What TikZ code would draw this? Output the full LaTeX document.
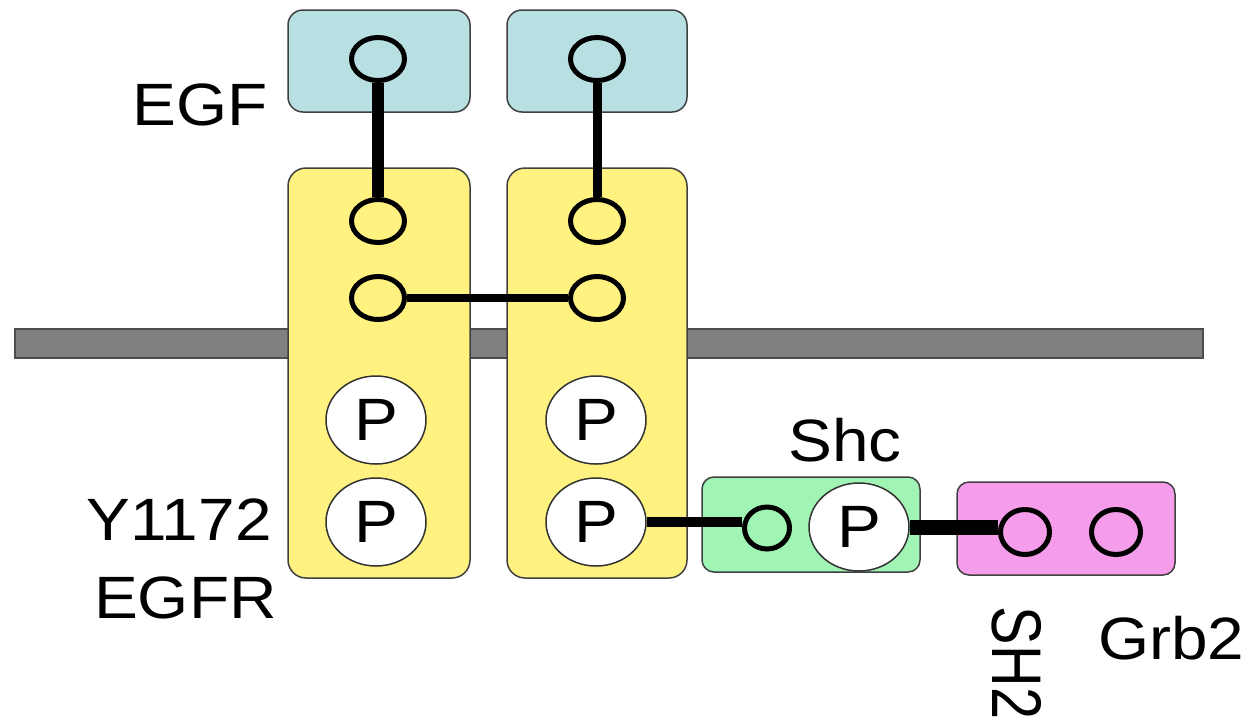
\documentclass[tikz,border=0pt]{standalone}
\usepackage{fontspec}
\setmainfont{Liberation Sans}[FakeStretch=1.1]
\newfontfamily\narrowfont{Liberation Sans}[FakeStretch=0.82]
\usetikzlibrary{shapes.geometric}
\definecolor{lig}{HTML}{B8E0E3}
\definecolor{rec}{HTML}{FFF280}
\definecolor{adp}{HTML}{A0F5B4}
\definecolor{grb}{HTML}{F59DEA}
\definecolor{mem}{HTML}{808080}
\tikzset{
  box/.style={draw=black!75, line width=0.3mm, rounded corners=3mm},
  dom/.style={ellipse, draw, line width=1mm, inner sep=0pt},
  phos/.style={ellipse, draw=black!80, line width=0.3mm, fill=white, minimum width=20mm, minimum height=17.6mm, inner sep=0pt},
  lbl/.style={inner sep=0pt}}
\begin{document}
\begin{tikzpicture}[x=0.2mm, y=-0.2mm, font=\fontsize{34}{40}\selectfont]
\useasboundingbox (0,0) rectangle (1260,722);
% membrane
\node[draw=black!70, fill=mem, line width=0.3mm, minimum width=237.6mm, minimum height=5.8mm, inner sep=0pt] (membrane) at (609,343.5) {};
% boxes
\node[box, fill=lig, minimum width=36.4mm, minimum height=20.4mm] (egf1) at (379,61) {};
\node[box, fill=lig, minimum width=36mm, minimum height=20.4mm] (egf2) at (597,61) {};
\node[box, fill=rec, rounded corners=3.6mm, minimum width=36.4mm, minimum height=82mm] (egfr1) at (379,373) {};
\node[box, fill=rec, rounded corners=3.6mm, minimum width=36mm, minimum height=82mm] (egfr2) at (597,373) {};
\node[box, fill=adp, rounded corners=2.4mm, minimum width=43.6mm, minimum height=19mm] (shc) at (811,524.5) {};
\node[box, fill=grb, rounded corners=2.4mm, minimum width=43.6mm, minimum height=18.6mm] (grb2) at (1066,528.5) {};
% domains
\node[dom, minimum width=10.6mm, minimum height=8.6mm] (lig1) at (378,59) {};
\node[dom, minimum width=10.6mm, minimum height=8.6mm] (lig2) at (597,59) {};
\node[dom, minimum width=10.6mm, minimum height=8.6mm] (dom1a) at (378,221) {};
\node[dom, minimum width=10.6mm, minimum height=8.6mm] (dom1b) at (378,298) {};
\node[dom, minimum width=10.6mm, minimum height=8.6mm] (dom2a) at (597,221) {};
\node[dom, minimum width=10.6mm, minimum height=8.6mm] (dom2b) at (597,298) {};
\node[phos] (p1a) at (376,420) {P};
\node[phos] (p1b) at (376,522) {P};
\node[phos] (p2a) at (596,420) {P};
\node[phos] (p2b) at (596,522) {P};
\node[dom, minimum width=9mm, minimum height=8.4mm] (ptb) at (767,528) {};
\node[phos] (shcp) at (859,527) {P};
\node[dom, minimum width=9.8mm, minimum height=9mm] (sh2a) at (1025,532) {};
\node[dom, minimum width=9.8mm, minimum height=9mm] (sh2b) at (1116,532) {};
% bonds
\draw[line width=2.4mm] (lig1.south) -- (dom1a.north);
\draw[line width=1.8mm] (lig2.south) -- (dom2a.north);
\draw[line width=1.6mm] (dom1b.east) -- (dom2b.west);
\draw[line width=2mm] (p2b.east) -- (p2b.east -| ptb.west);
\draw[line width=3mm] (shcp.east) -- (shcp.east -| sh2a.west);
% labels
\node[lbl, anchor=east] (egflbl) at (268,105) {EGF};
\node[lbl, anchor=east] (ylbl) at (272,520) {Y1172};
\node[lbl, anchor=east] (egfrlbl) at (277,598) {EGFR};
\node[lbl] (shclbl) at (845,440) {Shc};
\node[lbl, rotate=-90, font=\fontsize{40}{44}\narrowfont] (sh2lbl) at (1017,663) {SH2};
\node[lbl, anchor=west] (grblbl) at (1098,638) {Grb2};
\end{tikzpicture}
\end{document}
